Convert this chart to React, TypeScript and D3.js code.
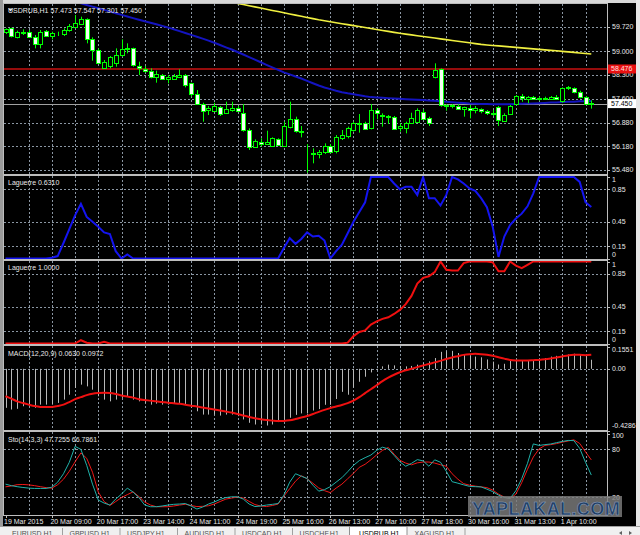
import { useEffect, useRef } from 'react'
import * as d3 from 'd3'

const symbol = 'USDRUB,H1'

const timeLabels = [
  '19 Mar 2015', '20 Mar 09:00', '20 Mar 17:00', '23 Mar 14:00', '24 Mar 11:00',
  '24 Mar 19:00', '25 Mar 16:00', '26 Mar 13:00', '27 Mar 10:00', '27 Mar 18:00',
  '30 Mar 16:00', '31 Mar 13:00', '1 Apr 10:00',
]

const open = [
  59.552, 59.68, 59.413, 59.562, 59.582, 59.433, 59.236, 59.601, 59.453, 59.542,
  59.512, 59.631, 59.74, 59.809, 59.947, 59.354, 59.038, 58.524, 58.544, 58.643,
  58.89, 59.058, 59.087, 58.564, 58.485, 58.425, 58.248, 58.297, 58.169, 58.169,
  58.248, 58.297, 58.05, 57.734, 57.437, 57.24, 57.24, 57.358, 57.161, 57.26,
  57.309, 57.161, 56.667, 56.173, 56.321, 56.272, 56.193, 56.39, 56.203, 56.746,
  56.983, 56.617, 55.965, 55.955, 55.955, 56.005, 56.193, 56.025, 56.42, 56.469,
  56.667, 56.864, 56.884, 56.716, 57.26, 57.111, 57.082, 57.062, 56.716, 56.746,
  56.864, 56.914, 57.21, 57.012, 58.228, 58.465, 57.408, 57.378, 57.378, 57.279,
  57.309, 57.26, 57.29, 57.23, 57.18, 57.338, 56.943, 57.141, 57.437, 57.675,
  57.605, 57.655, 57.595, 57.625, 57.585, 57.655, 57.506, 57.902, 57.902, 57.783,
  57.655, 57.473,
]
const high = [
  59.68, 59.7, 59.611, 59.651, 59.631, 59.483, 59.631, 59.631, 59.582, 59.582,
  59.68, 59.809, 60.075, 60.026, 59.977, 59.413, 59.087, 58.742, 58.86, 59.087,
  59.354, 59.236, 59.107, 58.692, 58.564, 58.495, 58.425, 58.327, 58.297, 58.327,
  58.465, 58.327, 58.07, 57.852, 57.477, 57.378, 57.477, 57.378, 57.506, 57.506,
  57.378, 57.437, 56.716, 56.39, 56.42, 56.647, 56.449, 56.42, 56.914, 57.506,
  57.062, 56.785, 56.252, 56.124, 56.074, 56.272, 56.252, 56.518, 56.667, 56.766,
  56.914, 57.141, 56.914, 57.437, 57.309, 57.161, 57.111, 57.082, 56.864, 56.914,
  57.18, 57.309, 57.279, 57.062, 58.643, 58.495, 57.437, 57.437, 57.437, 57.358,
  57.408, 57.378, 57.309, 57.26, 57.26, 57.378, 57.161, 57.408, 57.704, 57.734,
  57.675, 57.675, 57.655, 57.655, 57.675, 57.704, 57.931, 57.971, 57.931, 57.832,
  57.675, 57.547,
]
const low = [
  59.512, 59.413, 59.384, 59.483, 59.413, 59.087, 59.087, 59.433, 59.354, 59.453,
  59.453, 59.582, 59.68, 59.779, 59.236, 58.722, 58.623, 58.495, 58.495, 58.544,
  58.84, 58.939, 58.544, 58.297, 58.366, 58.198, 58.07, 58.149, 58.05, 58.149,
  58.228, 57.931, 57.655, 57.408, 56.914, 57.111, 57.21, 57.082, 57.141, 57.21,
  57.21, 56.618, 56.074, 56.153, 56.173, 56.222, 56.173, 56.193, 56.173, 56.716,
  56.588, 56.449, 55.402, 55.679, 55.827, 55.955, 55.975, 55.975, 56.37, 56.42,
  56.618, 56.588, 56.687, 56.687, 56.983, 56.766, 56.845, 56.667, 56.618, 56.568,
  56.845, 56.884, 56.983, 56.785, 58.198, 57.358, 57.24, 57.309, 57.26, 57.062,
  57.012, 57.161, 57.161, 57.111, 57.082, 56.785, 56.914, 57.111, 57.408, 57.506,
  57.457, 57.556, 57.536, 57.556, 57.566, 57.556, 57.477, 57.852, 57.754, 57.605,
  57.408, 57.301,
]
const close = [
  59.651, 59.433, 59.562, 59.542, 59.433, 59.216, 59.582, 59.453, 59.552, 59.532,
  59.631, 59.749, 59.848, 59.947, 59.354, 59.018, 58.663, 58.692, 58.821, 58.89,
  59.058, 59.087, 58.574, 58.495, 58.425, 58.248, 58.327, 58.178, 58.228, 58.267,
  58.297, 58.001, 57.734, 57.437, 57.24, 57.309, 57.378, 57.161, 57.279, 57.309,
  57.23, 56.647, 56.173, 56.351, 56.272, 56.321, 56.42, 56.222, 56.785, 56.983,
  56.617, 56.647, 55.955, 55.975, 56.025, 56.193, 56.025, 56.449, 56.518, 56.716,
  56.864, 56.884, 56.716, 57.26, 57.161, 57.082, 57.042, 56.716, 56.785, 56.884,
  57.012, 57.26, 57.012, 56.864, 58.445, 57.408, 57.378, 57.408, 57.279, 57.338,
  57.26, 57.309, 57.23, 57.18, 57.141, 56.943, 57.111, 57.378, 57.675, 57.605,
  57.655, 57.605, 57.625, 57.585, 57.655, 57.605, 57.902, 57.931, 57.773, 57.635,
  57.437, 57.45,
]

// blue moving average
const maBlue = [
  61.054, 61.004, 60.953, 60.906, 60.856, 60.808, 60.758, 60.71, 60.663, 60.615,
  60.568, 60.521, 60.473, 60.423, 60.372, 60.325, 60.274, 60.227, 60.177, 60.129,
  60.079, 60.031, 59.984, 59.936, 59.892, 59.845, 59.8, 59.753, 59.708, 59.655,
  59.598, 59.542, 59.486, 59.432, 59.376, 59.317, 59.252, 59.186, 59.118, 59.053,
  58.979, 58.905, 58.828, 58.751, 58.676, 58.599, 58.525, 58.451, 58.377, 58.315,
  58.255, 58.193, 58.125, 58.054, 57.986, 57.929, 57.879, 57.829, 57.784, 57.754,
  57.728, 57.698, 57.668, 57.642, 57.633, 57.621, 57.612, 57.6, 57.591, 57.582,
  57.571, 57.562, 57.553, 57.541, 57.532, 57.517, 57.502, 57.491, 57.476, 57.464,
  57.452, 57.446, 57.44, 57.437, 57.434, 57.431, 57.431, 57.434, 57.437, 57.443,
  57.449, 57.455, 57.461, 57.47, 57.479, 57.485, 57.494, 57.502, 57.508, 57.517,
  57.523, 57.526,
]
// yellow moving average
const maYellow = [
  61.9, 61.86, 61.83, 61.79, 61.75, 61.72, 61.68, 61.64, 61.61, 61.57,
  61.53, 61.5, 61.46, 61.42, 61.39, 61.35, 61.31, 61.27, 61.24, 61.2,
  61.16, 61.13, 61.09, 61.05, 61.01, 60.98, 60.94, 60.9, 60.86, 60.83,
  60.79, 60.75, 60.72, 60.68, 60.64, 60.61, 60.57, 60.53, 60.5, 60.46,
  60.42, 60.387, 60.352, 60.317, 60.282, 60.247, 60.212, 60.178, 60.143, 60.108,
  60.073, 60.038, 60.003, 59.968, 59.933, 59.905, 59.876, 59.848, 59.819, 59.79,
  59.762, 59.733, 59.705, 59.676, 59.647, 59.619, 59.59, 59.562, 59.533, 59.51,
  59.486, 59.463, 59.439, 59.416, 59.392, 59.369, 59.345, 59.322, 59.298, 59.275,
  59.251, 59.228, 59.204, 59.189, 59.174, 59.16, 59.145, 59.13, 59.115, 59.101,
  59.086, 59.072, 59.057, 59.043, 59.028, 59.014, 58.998, 58.983, 58.967, 58.951,
  58.936, 58.92,
]

const laguerreA = [
  0, 0, 0, 0, 0, 0, 0, 0, 0.01, 0.03,
  0.19, 0.36, 0.53, 0.67, 0.51, 0.45, 0.39, 0.32, 0.3, 0.09,
  0, 0.05, 0, 0, 0, 0, 0, 0, 0, 0,
  0, 0, 0, 0, 0, 0, 0, 0, 0, 0,
  0, 0, 0, 0, 0, 0, 0, 0, 0.13, 0.25,
  0.18, 0.24, 0.32, 0.27, 0.28, 0.22, 0, 0.09, 0.17, 0.31,
  0.45, 0.57, 0.69, 1, 1, 1, 1, 0.92, 0.85, 0.88,
  0.88, 0.78, 1, 0.74, 0.74, 0.65, 0.78, 1, 0.97, 0.92,
  0.86, 0.83, 0.74, 0.63, 0.39, 0.02, 0.27, 0.41, 0.49, 0.55,
  0.64, 0.8, 1, 1, 1, 1, 1, 1, 1, 0.94,
  0.69, 0.631,
]
const laguerreB = [
  0, 0, 0, 0, 0, 0, 0, 0, 0, 0,
  0, 0, 0, 0.04, 0.01, 0, 0, 0.02, 0, 0,
  0, 0, 0, 0, 0, 0, 0, 0, 0, 0,
  0, 0, 0, 0, 0, 0, 0, 0, 0, 0,
  0, 0, 0, 0, 0, 0, 0, 0, 0, 0,
  0, 0, 0, 0, 0, 0, 0, 0, 0, 0.01,
  0.09, 0.14, 0.16, 0.23, 0.27, 0.3, 0.32, 0.36, 0.41, 0.48,
  0.58, 0.73, 0.8, 0.82, 0.87, 1, 0.9, 0.89, 0.89, 0.98,
  1, 1, 1, 1, 0.99, 0.88, 0.88, 1, 0.95, 0.92,
  0.96, 1, 1, 1, 1, 1, 1, 1, 1, 1,
  1, 1,
]

const macdHist = [
  -0.271, -0.283, -0.278, -0.26, -0.26, -0.271, -0.249, -0.249, -0.249, -0.237,
  -0.214, -0.18, -0.133, -0.11, -0.122, -0.145, -0.191, -0.214, -0.226, -0.214,
  -0.202, -0.191, -0.214, -0.226, -0.237, -0.249, -0.242, -0.249, -0.249, -0.242,
  -0.237, -0.249, -0.271, -0.295, -0.318, -0.318, -0.318, -0.325, -0.318, -0.318,
  -0.329, -0.352, -0.375, -0.387, -0.387, -0.394, -0.387, -0.37, -0.36, -0.34,
  -0.32, -0.31, -0.31, -0.29, -0.28, -0.25, -0.25, -0.21, -0.16, -0.18,
  -0.13, -0.09, -0.055, -0.025, -0.008, 0.017, 0.029, 0.024, 0.02, 0.017,
  0.02, 0.029, 0.041, 0.052, 0.075, 0.118, 0.122, 0.125, 0.11, 0.1,
  0.09, 0.085, 0.08, 0.065, 0.05, 0.03, 0.035, 0.055, 0.06, 0.06,
  0.06, 0.06, 0.065, 0.075, 0.085, 0.09, 0.098, 0.1, 0.105, 0.1,
  0.092, 0.063,
]
const macdSignal = [
  -0.19, -0.207, -0.226, -0.238, -0.249, -0.259, -0.265, -0.266, -0.265, -0.258,
  -0.249, -0.231, -0.211, -0.197, -0.183, -0.173, -0.168, -0.166, -0.168, -0.175,
  -0.185, -0.193, -0.2, -0.211, -0.217, -0.221, -0.226, -0.23, -0.235, -0.239,
  -0.243, -0.249, -0.256, -0.262, -0.269, -0.276, -0.283, -0.29, -0.297, -0.304,
  -0.314, -0.325, -0.335, -0.343, -0.35, -0.356, -0.36, -0.363, -0.362, -0.358,
  -0.349, -0.338, -0.328, -0.314, -0.299, -0.285, -0.273, -0.262, -0.251, -0.238,
  -0.221, -0.197, -0.169, -0.142, -0.114, -0.086, -0.062, -0.041, -0.024, -0.01,
  0, 0.012, 0.023, 0.033, 0.045, 0.055, 0.068, 0.079, 0.088, 0.097,
  0.102, 0.104, 0.102, 0.098, 0.091, 0.081, 0.071, 0.062, 0.058, 0.057,
  0.058, 0.06, 0.062, 0.066, 0.072, 0.079, 0.086, 0.093, 0.097, 0.097,
  0.095, 0.0972,
]

const stoMain = [
  36.3, 34.4, 33.1, 32.1, 31.3, 30.9, 30.9, 30.9, 32.5, 38.8,
  49.4, 63.8, 83.8, 80, 60, 36.3, 16.3, 12.5, 10, 17.5,
  23.8, 31.3, 26.3, 19.4, 10, 7.9, 7.9, 8.8, 10, 10.9,
  11.3, 11.9, 8.8, 5, 7.5, 11.3, 13.8, 17.1, 19.4, 20.4,
  20.4, 17.5, 11.3, 8.1, 8.8, 10, 10.9, 11.9, 22.5, 38.8,
  49.4, 46.3, 43.4, 35, 27.5, 29.4, 33.1, 38.8, 44.4, 51.9,
  60, 65.9, 69.6, 72.9, 78.8, 82.8, 80.6, 72.5, 64.4, 58.8,
  62.5, 67.1, 65.6, 58.8, 66.9, 63.8, 52.5, 39.4, 37.5, 35.4,
  33.5, 33.1, 32.8, 30, 26.9, 22.5, 19.4, 18.4, 28.1, 43.1,
  62.5, 86.9, 85, 86, 86.8, 88.5, 90, 91.3, 91, 81.3,
  63.8, 47.7255,
]
const stoSignal = [
  32.9, 34, 35.6, 35.9, 35.4, 34.4, 33.1, 31.9, 31.3, 35.6,
  42.5, 52.5, 64.4, 75.6, 68.8, 51.3, 26.3, 14.4, 9.4, 14.4,
  19.4, 23.1, 26.6, 20.6, 13.8, 10, 7.9, 7.9, 7.9, 8.8,
  10, 11, 9.4, 8.1, 8.4, 9.1, 11.3, 14.4, 17.5, 18.8,
  20, 18.8, 14.6, 10.6, 8.8, 8.1, 9.4, 11.3, 21.3, 30.6,
  40, 46.9, 43.1, 37.5, 31.5, 28.1, 25.6, 31.3, 36.3, 43.1,
  50, 57.5, 61.3, 66.9, 73.1, 78.8, 82.5, 74, 66.3, 62.8,
  60.6, 63.1, 64.1, 64.1, 62.8, 60.6, 58.8, 49.4, 42.5, 36.9,
  35, 33.8, 32.9, 31.9, 28.8, 23.8, 20, 18.1, 23.8, 38.1,
  55, 70.4, 80.6, 85, 86, 87.3, 89.1, 90.6, 92, 87.5,
  76.9, 66.7861,
]

const priceTicks = [59.72, 59.0, 58.3, 57.6, 56.88, 56.18, 55.48]
const priceDomain = [55.363, 60.402]
const laguerreTicks = [1, 0.85, 0.45, 0.15, 0]
const laguerreGrid = [0.85, 0.45, 0.15]
const macdTicks = [0.1551, 0, -0.4286]
const stoTicks = [100, 80, 20, 0]
const stoGrid = [80, 20]
const levelPrice = 58.476
const bidPrice = 57.45

const tabs = ['EURUSD,H1', 'GBPUSD,H1', 'USDJPY,H1', 'AUDUSD,H1', 'USDCAD,H1', 'USDCHF,H1', 'USDRUB,H1', 'XAGUSD,H1']

export default function App() {
  const ref = useRef<SVGSVGElement | null>(null)

  useEffect(() => {
    if (!ref.current) return

    const width = 640
    const height = 535
    const left = 4
    const right = 607
    const font = "'Liberation Sans', Arial, sans-serif"
    const fg = '#e8e8e8'
    const gridColor = '#8a96a3'

    const svg = d3.select(ref.current)
    svg.selectAll('*').remove()

    svg.append('rect').attr('width', width).attr('height', height).attr('fill', '#000')
    svg.append('rect').attr('width', width).attr('height', 3).attr('fill', '#d8d8d8')
    svg.append('rect').attr('width', 3).attr('height', height).attr('fill', '#9a9a9a')
    svg.append('rect').attr('x', 636).attr('width', 4).attr('height', height).attr('fill', '#e6e6e6')

    const n = close.length
    const x = d3.scaleLinear().domain([0, n - 1]).range([5.5, 591.3])
    const px = (i: number) => Math.round(x(i)) + 0.5
    const gridBars = d3.range(4, n, 4)

    const defs = svg.append('defs')

    const makePanel = (
      top: number,
      bottom: number,
      y: d3.ScaleLinear<number, number>,
      hGrid: number[],
      ticks: number[],
      fmt: (v: number) => string,
    ) => {
      const id = `clip-${top}`
      defs.append('clipPath').attr('id', id)
        .append('rect').attr('x', left).attr('y', top).attr('width', right - left).attr('height', bottom - top)

      const grid = svg.append('g').attr('stroke', gridColor).attr('stroke-width', 1).attr('stroke-dasharray', '2,2')
      grid.selectAll('line.v').data(gridBars).join('line')
        .attr('x1', (d) => px(d)).attr('x2', (d) => px(d))
        .attr('y1', top).attr('y2', bottom)
      grid.selectAll('line.h').data(hGrid).join('line')
        .attr('x1', left).attr('x2', right)
        .attr('y1', (d) => Math.round(y(d)) + 0.5).attr('y2', (d) => Math.round(y(d)) + 0.5)

      const axis = svg.append('g')
      axis.selectAll('line').data(ticks).join('line')
        .attr('x1', right).attr('x2', right + 3)
        .attr('y1', (d) => Math.round(y(d)) + 0.5).attr('y2', (d) => Math.round(y(d)) + 0.5)
        .attr('stroke', '#c0c0c0')
      axis.selectAll('text').data(ticks).join('text')
        .attr('x', 612)
        .attr('y', (d) => Math.max(top + 4, Math.min(bottom - 4, y(d))))
        .attr('dy', '0.35em')
        .attr('fill', fg)
        .attr('font-family', font)
        .attr('font-size', 7)
        .text((d) => fmt(d))

      const plot = svg.append('g').attr('clip-path', `url(#${id})`)
      return plot
    }

    const border = (top: number, bottom: number) => {
      svg.append('rect')
        .attr('x', left - 0.5).attr('y', top - 0.5)
        .attr('width', right - left + 1).attr('height', bottom - top + 1)
        .attr('fill', 'none').attr('stroke', '#bdbdbd')
    }

    const label = (text: string, yPos: number) => {
      svg.append('text')
        .attr('x', 8).attr('y', yPos)
        .attr('fill', fg).attr('font-family', font).attr('font-size', 7)
        .text(text)
    }

    // ---- main price panel
    const yMain = d3.scaleLinear().domain(priceDomain).range([174, 4])
    const main = makePanel(4, 174, yMain, priceTicks, priceTicks, d3.format('.3f'))

    main.append('line')
      .attr('x1', left).attr('x2', right)
      .attr('y1', yMain(levelPrice)).attr('y2', yMain(levelPrice))
      .attr('stroke', '#960c0c').attr('stroke-width', 2)
    main.append('line')
      .attr('x1', left).attr('x2', right)
      .attr('y1', Math.round(yMain(bidPrice)) + 0.5).attr('y2', Math.round(yMain(bidPrice)) + 0.5)
      .attr('stroke', '#a0a0a0')

    const priceLine = (values: number[]) =>
      d3.line<number>().x((_, i) => x(i)).y((d) => yMain(d))(values)

    main.append('path').attr('d', priceLine(maYellow))
      .attr('fill', 'none').attr('stroke', '#f0f040').attr('stroke-width', 1.6)
    main.append('path').attr('d', priceLine(maBlue))
      .attr('fill', 'none').attr('stroke', '#1414c0').attr('stroke-width', 2)

    const bars = d3.range(n)
    const candles = main.append('g')
    candles.selectAll('line.wick').data(bars).join('line')
      .attr('x1', (i) => px(i)).attr('x2', (i) => px(i))
      .attr('y1', (i) => yMain(high[i])).attr('y2', (i) => yMain(low[i]))
      .attr('stroke', '#00ff00')
    candles.selectAll('rect.body').data(bars).join('rect')
      .attr('x', (i) => Math.round(x(i)) - 1.5)
      .attr('width', 4)
      .attr('y', (i) => Math.round(Math.min(yMain(open[i]), yMain(close[i]))) + 0.5)
      .attr('height', (i) => Math.max(0, Math.round(Math.abs(yMain(open[i]) - yMain(close[i])))))
      .attr('fill', (i) => (close[i] < open[i] ? '#f4fff4' : '#000'))
      .attr('stroke', '#00ff00')

    border(4, 174)

    // title
    svg.append('path').attr('d', 'M8,8.5 L13,8.5 L10.5,11.5 Z').attr('fill', fg)
    label(
      `${symbol}  ${open[n - 1].toFixed(3)} ${high[n - 1].toFixed(3)} ${low[n - 1].toFixed(3)} ${close[n - 1].toFixed(3)}`,
      13,
    )

    // price boxes
    const box = (price: number, bg: string, color: string) => {
      const yy = yMain(price)
      svg.append('rect').attr('x', 608).attr('y', yy - 4.5).attr('width', 28).attr('height', 9).attr('fill', bg)
      svg.append('text').attr('x', 611).attr('y', yy).attr('dy', '0.35em')
        .attr('fill', color).attr('font-family', font).attr('font-size', 7)
        .text(price.toFixed(3))
    }
    box(levelPrice, '#e81010', '#ffe0e0')
    box(bidPrice, '#ffffff', '#000000')

    // ---- Laguerre panels
    const fmtLag = (v: number) => String(v)
    const yLagA = d3.scaleLinear().domain([0, 1]).range([258.5, 177])
    const lagA = makePanel(176, 259, yLagA, laguerreGrid, laguerreTicks, fmtLag)
    lagA.append('path')
      .attr('d', d3.line<number>().x((_, i) => x(i)).y((d) => yLagA(d))(laguerreA))
      .attr('fill', 'none').attr('stroke', '#1414f0').attr('stroke-width', 2)
    border(176, 259)
    label(`Laguerre ${laguerreA[n - 1].toFixed(4)}`, 184.5)

    const yLagB = d3.scaleLinear().domain([0, 1]).range([343.5, 261.5])
    const lagB = makePanel(261, 344, yLagB, laguerreGrid, laguerreTicks, fmtLag)
    lagB.append('path')
      .attr('d', d3.line<number>().x((_, i) => x(i)).y((d) => yLagB(d))(laguerreB))
      .attr('fill', 'none').attr('stroke', '#f01010').attr('stroke-width', 2)
    border(261, 344)
    label(`Laguerre ${laguerreB[n - 1].toFixed(4)}`, 270)

    // ---- MACD
    const yMacd = d3.scaleLinear().domain([macdTicks[2], macdTicks[0]]).range([430.5, 346.5])
    const macd = makePanel(346, 430, yMacd, [0], macdTicks, (v) => (v === 0 ? '0.00' : String(v)))
    macd.selectAll('line.hist').data(bars).join('line')
      .attr('x1', (i) => px(i)).attr('x2', (i) => px(i))
      .attr('y1', yMacd(0)).attr('y2', (i) => yMacd(macdHist[i]))
      .attr('stroke', '#b8b8b8')
    macd.append('path')
      .attr('d', d3.line<number>().x((_, i) => x(i)).y((d) => yMacd(d)).curve(d3.curveMonotoneX)(macdSignal))
      .attr('fill', 'none').attr('stroke', '#f01010').attr('stroke-width', 2)
    border(346, 430)
    label(`MACD(12,20,9) ${macdHist[n - 1].toFixed(4)} ${macdSignal[n - 1].toFixed(4)}`, 356)

    // ---- Stochastic
    const ySto = d3.scaleLinear().domain([0, 100]).range([513, 433.5])
    const sto = makePanel(432, 515, ySto, stoGrid, stoTicks, (v) => String(v))
    const stoLine = d3.line<number>().x((_, i) => x(i)).y((d) => ySto(d))
    sto.append('path').attr('d', stoLine(stoSignal))
      .attr('fill', 'none').attr('stroke', '#f01818').attr('stroke-width', 1)
    sto.append('path').attr('d', stoLine(stoMain))
      .attr('fill', 'none').attr('stroke', '#20b2aa').attr('stroke-width', 1)
    border(432, 515)
    label(`Sto(14,3,3) ${stoMain[n - 1].toFixed(4)} ${stoSignal[n - 1].toFixed(4)}`, 442)

    // ---- time axis
    const timeBars = timeLabels.map((_, k) => k * 8)
    const tAxis = svg.append('g')
    tAxis.selectAll('line').data(timeBars).join('line')
      .attr('x1', (d) => px(d)).attr('x2', (d) => px(d))
      .attr('y1', 516).attr('y2', 518)
      .attr('stroke', '#c0c0c0')
    tAxis.selectAll('text').data(timeLabels).join('text')
      .attr('x', (_, k) => x(timeBars[k]) - 1.5)
      .attr('y', 523.5)
      .attr('fill', fg).attr('font-family', font).attr('font-size', 7)
      .text((d) => d)

    // ---- watermark
    svg.append('rect').attr('x', 468).attr('y', 496).attr('width', 154).attr('height', 21)
      .attr('fill', '#7c7c7c').attr('opacity', 0.82)
    svg.append('text').attr('x', 546).attr('y', 514.5).attr('text-anchor', 'middle')
      .attr('font-family', font).attr('font-size', 18).attr('font-weight', 700)
      .attr('fill', '#1f3e66').attr('stroke', '#8ca2c0').attr('stroke-width', 0.5)
      .attr('letter-spacing', 0.4)
      .text('YAPLAKAL.COM')

    // ---- symbol tabs
    svg.append('rect').attr('x', 0).attr('y', 526).attr('width', width).attr('height', 9).attr('fill', '#f0f0f0')
    svg.append('line').attr('x1', 0).attr('x2', width).attr('y1', 526.5).attr('y2', 526.5).attr('stroke', '#a0a0a0')
    const activeTab = tabs.indexOf(symbol)
    const tabX = (k: number) => 12 + k * 57.5
    svg.append('rect')
      .attr('x', tabX(activeTab) - 7.5).attr('y', 526.5).attr('width', 57.5).attr('height', 10)
      .attr('fill', '#ffffff').attr('stroke', '#909090')
    const tabG = svg.append('g')
    tabG.selectAll('line').data(tabs.map((_, k) => k).filter((k) => k !== activeTab && k !== activeTab - 1))
      .join('line')
      .attr('x1', (k) => tabX(k) + 50.5).attr('x2', (k) => tabX(k) + 50.5)
      .attr('y1', 528).attr('y2', 535)
      .attr('stroke', '#a0a0a0')
    tabG.selectAll('text').data(tabs).join('text')
      .attr('x', (_, k) => tabX(k) + (k === activeTab ? 2 : 0))
      .attr('y', 536)
      .attr('fill', (_, k) => (k === activeTab ? '#000' : '#505050'))
      .attr('font-family', font).attr('font-size', 7)
      .text((d) => d)
    svg.append('path').attr('d', 'M622,531 L619,533 L622,535 Z').attr('fill', '#606060')
    svg.append('path').attr('d', 'M629,531 L632,533 L629,535 Z').attr('fill', '#606060')
  }, [])

  return (
    <svg
      ref={ref}
      width={640}
      height={535}
      viewBox="0 0 640 535"
      style={{ position: 'absolute', left: 0, top: 0, display: 'block' }}
      role="img"
      aria-label="USDRUB H1 chart"
    />
  )
}
